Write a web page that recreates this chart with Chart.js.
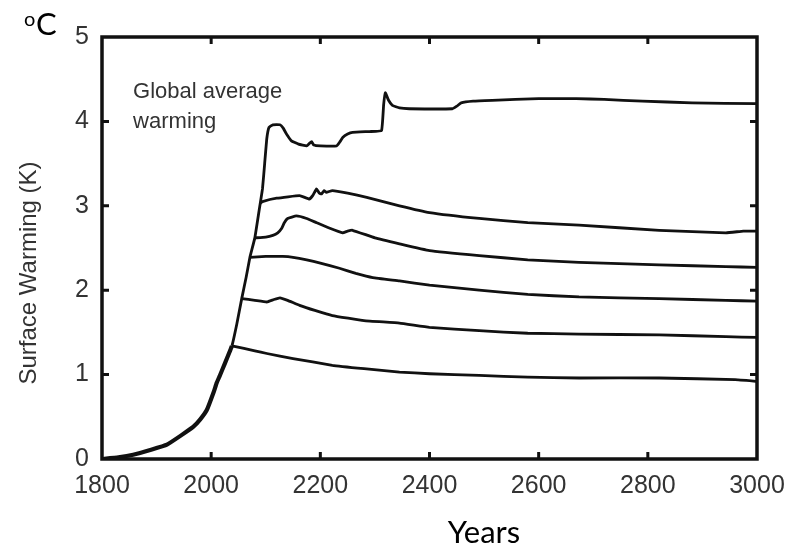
<!DOCTYPE html>
<html>
<head>
<meta charset="utf-8">
<script src="https://cdn.jsdelivr.net/npm/chart.js@4.4.1/dist/chart.umd.min.js"></script>
<style>
  html, body { margin: 0; padding: 0; background: #fff; }
  canvas { display: block; }
</style>
</head>
<body>
<canvas id="warming" width="791" height="547"></canvas>
<script>
// Tick positions
const yearTicks = [1800, 2000, 2200, 2400, 2600, 2800, 3000];
const kelvinTicks = [0, 1, 2, 3, 4, 5];

// Global average warming (history + highest emission run)
const globalYears = [1800, 1830, 1857, 1890, 1919, 1945, 1967, 1980, 1992, 2005, 2010, 2016, 2025, 2038,
  2047, 2056, 2064, 2071, 2080, 2088, 2094, 2098, 2102, 2106, 2113, 2126, 2132, 2138, 2147, 2160,
  2175, 2180, 2184, 2188, 2200, 2230, 2236, 2241, 2250, 2259, 2290, 2312, 2316, 2319, 2325, 2332,
  2345, 2363, 2442, 2450, 2458, 2480, 2515, 2600, 2669, 2720, 2790, 2881, 3000];
const globalK = [0, 0.02, 0.05, 0.11, 0.17, 0.28, 0.38, 0.47, 0.58, 0.8, 0.9, 0.99, 1.13, 1.34,
  1.6, 1.9, 2.15, 2.39, 2.62, 2.95, 3.2, 3.5, 3.8, 3.93, 3.96, 3.96, 3.92, 3.85, 3.77, 3.73,
  3.71, 3.74, 3.76, 3.72, 3.71, 3.71, 3.76, 3.81, 3.85, 3.87, 3.88, 3.89, 4.2, 4.34, 4.25, 4.19,
  4.16, 4.15, 4.15, 4.18, 4.22, 4.24, 4.25, 4.27, 4.27, 4.26, 4.24, 4.22, 4.21];

// Lower emission runs, each leaving the common path
const run1Years = [2090, 2094, 2120, 2162, 2180, 2186, 2193, 2198, 2202, 2207, 2211, 2222, 2250, 2285,
  2345, 2400, 2491, 2580, 2674, 2821, 2943, 2975, 3000];
const run1K = [3.03, 3.05, 3.09, 3.12, 3.08, 3.12, 3.2, 3.15, 3.14, 3.18, 3.16, 3.18, 3.15, 3.1,
  3.0, 2.92, 2.85, 2.8, 2.77, 2.71, 2.68, 2.7, 2.7];

const run2Years = [2080, 2100, 2113, 2122, 2129, 2134, 2140, 2156, 2175, 2193, 2215, 2241, 2250, 2259,
  2300, 2345, 2400, 2491, 2580, 2674, 2821, 2943, 3000];
const run2K = [2.62, 2.63, 2.65, 2.68, 2.73, 2.8, 2.85, 2.88, 2.85, 2.8, 2.74, 2.68, 2.7, 2.71,
  2.62, 2.55, 2.47, 2.41, 2.36, 2.33, 2.3, 2.28, 2.27];

const run3Years = [2071, 2100, 2131, 2150, 2175, 2200, 2235, 2265, 2296, 2345, 2400, 2491, 2580, 2674,
  2821, 2943, 3000];
const run3K = [2.39, 2.4, 2.4, 2.39, 2.36, 2.32, 2.26, 2.2, 2.15, 2.11, 2.06, 2.0, 1.95, 1.92,
  1.9, 1.88, 1.87];

const run4Years = [2056, 2080, 2102, 2115, 2126, 2140, 2162, 2190, 2222, 2280, 2345, 2400, 2491, 2580,
  2674, 2821, 2943, 3000];
const run4K = [1.9, 1.88, 1.86, 1.89, 1.91, 1.88, 1.82, 1.76, 1.7, 1.64, 1.61, 1.56, 1.52, 1.49,
  1.48, 1.47, 1.45, 1.44];

const run5Years = [2038, 2060, 2080, 2102, 2150, 2222, 2280, 2345, 2400, 2491, 2580, 2674, 2821, 2960, 3000];
const run5K = [1.34, 1.31, 1.28, 1.25, 1.19, 1.11, 1.07, 1.03, 1.01, 0.99, 0.97, 0.96, 0.96, 0.94, 0.92];

const toPoints = (xs, ys) => xs.map((x, i) => ({ x: x, y: ys[i] }));

const series = [
  [globalYears, globalK],
  [run1Years, run1K],
  [run2Years, run2K],
  [run3Years, run3K],
  [run4Years, run4K],
  [run5Years, run5K]
];

const LINE = '#111';
const AXIS_FONT = { family: '"Liberation Sans", Arial, sans-serif', size: 25 };

// box frame, inward ticks and the free-standing labels
const frame = {
  id: 'frame',
  afterDraw(chart) {
    const { ctx, chartArea: a, scales: { x, y } } = chart;
    ctx.save();
    ctx.strokeStyle = LINE;
    ctx.lineWidth = 3.5;
    ctx.strokeRect(a.left, a.top, a.right - a.left, a.bottom - a.top);

    ctx.lineWidth = 3;
    ctx.beginPath();
    yearTicks.slice(1, -1).forEach(v => {
      const px = x.getPixelForValue(v);
      ctx.moveTo(px, a.bottom); ctx.lineTo(px, a.bottom - 7);
      ctx.moveTo(px, a.top); ctx.lineTo(px, a.top + 7);
    });
    kelvinTicks.slice(1, -1).forEach(v => {
      const py = y.getPixelForValue(v);
      ctx.moveTo(a.left, py); ctx.lineTo(a.left + 7, py);
      ctx.moveTo(a.right, py); ctx.lineTo(a.right - 7, py);
    });
    ctx.stroke();

    // in-plot note
    ctx.fillStyle = '#333';
    ctx.font = '22px "Liberation Sans", Arial, sans-serif';
    ctx.textAlign = 'left';
    ctx.textBaseline = 'alphabetic';
    ctx.fillText('Global average', x.getPixelForValue(1857), y.getPixelForValue(4.28));
    ctx.fillText('warming', x.getPixelForValue(1857), y.getPixelForValue(3.92));

    // y axis title
    ctx.save();
    ctx.translate(36, 273);
    ctx.rotate(-Math.PI / 2);
    ctx.textAlign = 'center';
    ctx.font = '24px "Liberation Sans", Arial, sans-serif';
    ctx.fillText('Surface Warming (K)', 0, 0);
    ctx.restore();

    // unit and x axis caption
    ctx.fillStyle = '#000';
    ctx.textAlign = 'left';
    ctx.font = '20px Lato, sans-serif';
    ctx.fillText('o', 24, 26);
    ctx.font = '31px Lato, sans-serif';
    ctx.fillText('C', 36, 35);
    ctx.textAlign = 'center';
    ctx.fillText('Years', 484, 543);
    ctx.restore();
  }
};

new Chart(document.getElementById('warming'), {
  type: 'line',
  data: {
    datasets: series.map(([xs, ys]) => ({
      data: toPoints(xs, ys),
      borderColor: LINE,
      borderWidth: 2.8,
      pointRadius: 0,
      tension: 0.1,
      fill: false,
      segment: {
        // the shared historical path is drawn heavier
        borderWidth: c => (c.p1.parsed.x <= 2038 ? 4.2 : 2.8)
      }
    }))
  },
  options: {
    responsive: false,
    animation: false,
    devicePixelRatio: 1,
    layout: { padding: { top: 37, right: 34, left: 0, bottom: 0 } },
    plugins: { legend: { display: false }, tooltip: { enabled: false } },
    scales: {
      x: {
        type: 'linear',
        min: 1800,
        max: 3000,
        afterBuildTicks: s => { s.ticks = yearTicks.map(v => ({ value: v })); },
        afterFit: s => { s.height = 88; s.paddingLeft = 0; s.paddingRight = 0; },
        grid: { display: false, drawTicks: false },
        border: { display: false },
        ticks: {
          padding: 12,
          color: '#333',
          maxRotation: 0,
          font: AXIS_FONT,
          callback: v => String(v)
        }
      },
      y: {
        min: 0,
        max: 5,
        afterBuildTicks: s => { s.ticks = kelvinTicks.map(v => ({ value: v })); },
        afterFit: s => { s.width = 102; s.paddingTop = 0; s.paddingBottom = 0; },
        grid: { display: false, drawTicks: false },
        border: { display: false },
        ticks: {
          padding: 13,
          color: '#333',
          font: AXIS_FONT,
          callback: v => String(v)
        }
      }
    }
  },
  plugins: [frame]
});
</script>
</body>
</html>
